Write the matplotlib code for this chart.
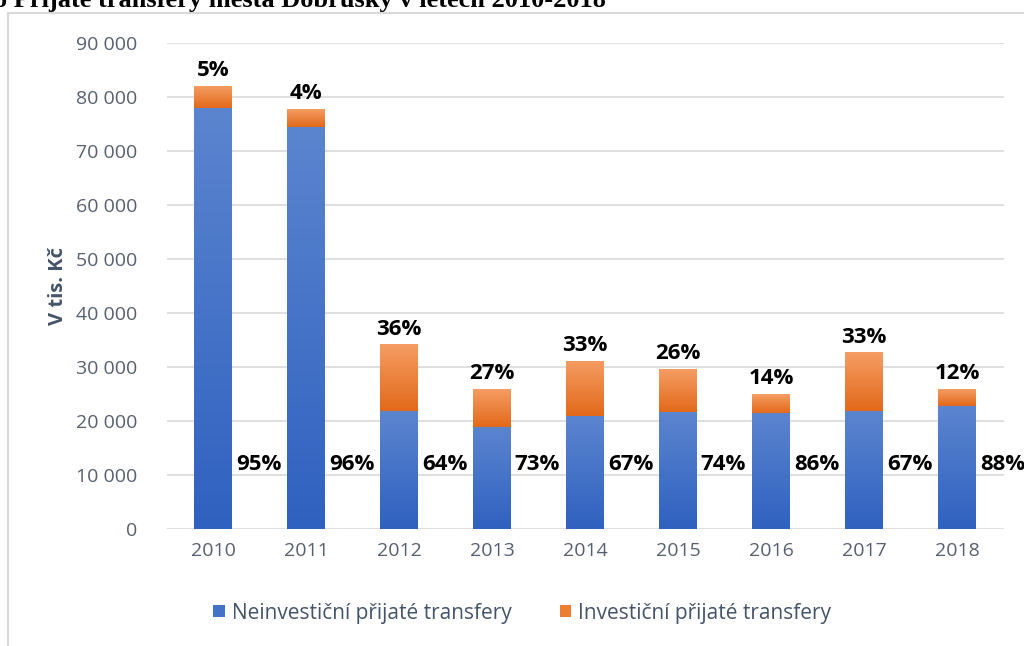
import matplotlib.pyplot as plt
from matplotlib.patches import Rectangle
from matplotlib.colors import LinearSegmentedColormap
import numpy as np

years = ["2010", "2011", "2012", "2013", "2014", "2015", "2016", "2017", "2018"]
neinvesticni = [78000, 74500, 21800, 18900, 20900, 21700, 21500, 21800, 22800]
investicni = [4000, 3300, 12400, 7000, 10200, 7900, 3500, 10900, 3100]
pct_inv = ["5%", "4%", "36%", "27%", "33%", "26%", "14%", "33%", "12%"]
pct_neinv = ["95%", "96%", "64%", "73%", "67%", "74%", "86%", "67%", "88%"]
yticks = [0, 10000, 20000, 30000, 40000, 50000, 60000, 70000, 80000, 90000]

blue = '#4472c4'
orange = '#ed7d31'
grey = '#576070'

fig = plt.figure(figsize=(10.24, 6.46), dpi=100)
ax = fig.add_axes([0.1626, 0.181, 0.8174, 0.7524])

x = np.arange(len(years))
bars_n = ax.bar(x, neinvesticni, width=0.4, color=blue,
                label="Neinvestiční přijaté transfery", zorder=2)
bars_i = ax.bar(x, investicni, width=0.4, bottom=neinvesticni, color=orange,
                label="Investiční přijaté transfery", zorder=2)

# excel-like vertical gradient in each bar
cmap_b = LinearSegmentedColormap.from_list("b", ['#2f61c0', '#5c85cf'])
cmap_o = LinearSegmentedColormap.from_list("o", ['#e2691a', '#f59d63'])
grad = np.linspace(0, 1, 256).reshape(-1, 1)
for bars, cm in ((bars_n, cmap_b), (bars_i, cmap_o)):
    for b in bars:
        x0, y0 = b.get_xy()
        im = ax.imshow(grad, extent=[x0, x0 + b.get_width(), y0, y0 + b.get_height()],
                       origin='lower', aspect='auto', cmap=cm, zorder=3)
        im.set_clip_path(b)

for i in range(len(years)):
    top = neinvesticni[i] + investicni[i]
    ax.text(x[i], top + 900, pct_inv[i], ha='center', va='bottom',
            fontsize=16, fontweight='bold', family='Open Sans', color='black', zorder=4)
    ax.text(x[i] + 0.245, 11900, pct_neinv[i], ha='left', va='center',
            fontsize=16, fontweight='bold', family='Open Sans', color='black',
            clip_on=False, zorder=4)

ax.set_xlim(-0.5, 8.5)
ax.set_ylim(0, 90000)
ax.set_xticks(x)
ax.set_xticklabels(years)
ax.set_yticks(yticks)
ax.set_yticklabels([f"{v:,}".replace(",", " ") for v in yticks])
ax.tick_params(axis='both', length=0, labelsize=14, labelcolor=grey)
ax.tick_params(axis='x', pad=9)
ax.tick_params(axis='y', pad=21)
for lab in ax.get_xticklabels() + ax.get_yticklabels():
    lab.set_family('Open Sans')
ax.grid(axis='y', color='#d9d9d9', linewidth=1.2, zorder=0)
for s in ax.spines.values():
    s.set_visible(False)

ax.set_ylabel("V tis. Kč", fontsize=14.5, fontweight='bold', color='#44546a',
              family='Open Sans')
ax.yaxis.set_label_coords(-0.118, 0.5)

ax.legend(loc='center', bbox_to_anchor=(0.51, 0.051), bbox_transform=fig.transFigure,
          ncol=2, frameon=False, prop={'family': 'Open Sans', 'size': 15},
          labelcolor='#44546a', handlelength=0.55, handleheight=0.55,
          handletextpad=0.35, columnspacing=2.3)

# chart frame
fig.patches.append(Rectangle((8 / 1024, -0.01), 1.1, 1 - 13 / 646 + 0.01,
                             transform=fig.transFigure, fill=False,
                             edgecolor='#d9d9d9', linewidth=1.5))

fig.text(-0.006, 1 - 7 / 646, "o Přijaté transfery města Dobrušky v letech 2010-2018",
         ha='left', va='baseline', fontsize=19, fontweight='bold',
         family='Liberation Serif', color='black')

fig.savefig("out.png", dpi=100)
